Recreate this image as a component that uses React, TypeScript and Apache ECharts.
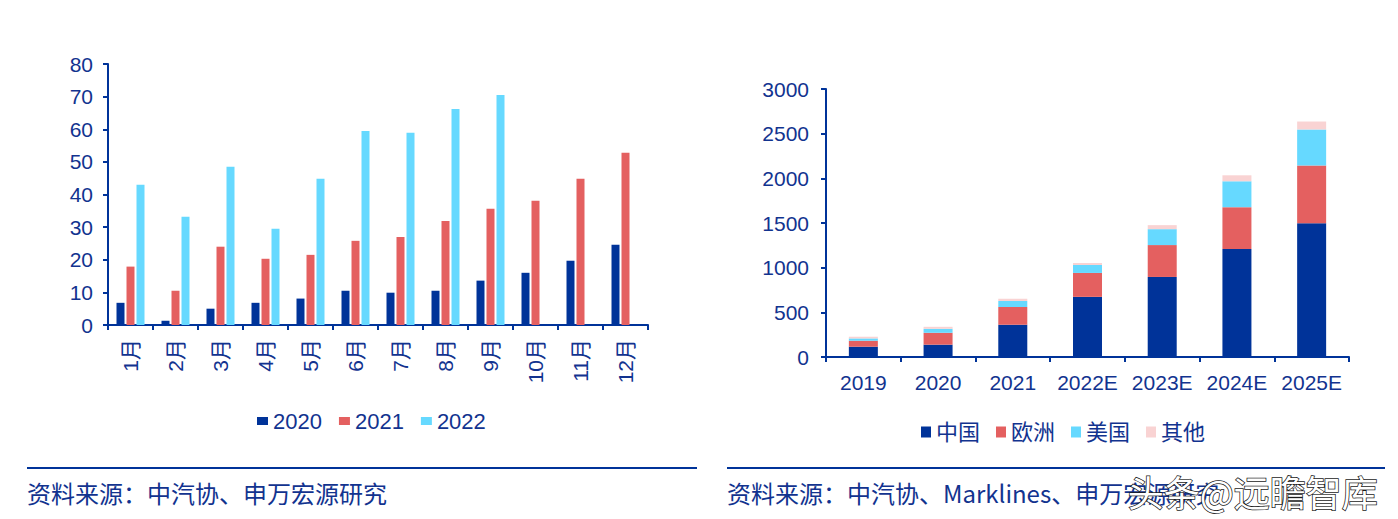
import React, { useEffect, useRef } from "react";
import * as echarts from "echarts";

const months = ["1月", "2月", "3月", "4月", "5月", "6月", "7月", "8月", "9月", "10月", "11月", "12月"];
const sales2020 = [6.8, 1.3, 5.0, 6.8, 8.1, 10.5, 9.9, 10.5, 13.6, 16.0, 19.7, 24.6];
const sales2021 = [17.9, 10.5, 24.0, 20.3, 21.5, 25.8, 27.0, 31.9, 35.6, 38.1, 44.8, 52.8];
const sales2022 = [43.0, 33.2, 48.5, 29.5, 44.8, 59.5, 58.9, 66.2, 70.5, null, null, null];

const years = ["2019", "2020", "2021", "2022E", "2023E", "2024E", "2025E"];
const china = [115, 138, 361, 673, 896, 1208, 1498];
const europe = [67, 133, 200, 268, 357, 469, 647];
const usa = [26, 45, 67, 89, 178, 290, 402];
const others = [19, 22, 23, 22, 45, 67, 89];

const leftLegend = ["2020", "2021", "2022"];
const rightLegend = ["中国", "欧洲", "美国", "其他"];

const sourceLeft = "资料来源：中汽协、申万宏源研究";
const sourceRight = "资料来源：中汽协、Marklines、申万宏源研究";
const watermark = "头条@远瞻智库";

const C_DARK = "#003399";
const C_RED = "#E46060";
const C_CYAN = "#66D9FF";
const C_PINK = "#F9D3D3";
const AXIS = "#003399";
const TXT = "#12338F";
const FONT = "'Liberation Sans', Arial, 'Noto Sans CJK SC', sans-serif";
const CJK = "'Noto Sans CJK SC', sans-serif";

export default function App() {
  const ref = useRef<HTMLDivElement>(null);
  useEffect(() => {
    if (!ref.current) return;
    const chart = echarts.init(ref.current, undefined, { renderer: "svg" });
    const axisLine = { show: true, lineStyle: { color: AXIS, width: 2 } };
    const axisTick = { show: true, length: 5, lineStyle: { color: AXIS, width: 2 } };
    const lbl = { color: TXT, fontSize: 21, fontFamily: FONT };
    chart.setOption({
      animation: false,
      textStyle: { fontFamily: FONT },
      grid: [
        { left: 108, top: 64, width: 540, height: 261 },
        { left: 826, top: 89, width: 523, height: 268 },
      ],
      legend: [
        {
          data: leftLegend,
          left: 252,
          top: 405,
          icon: "rect",
          itemWidth: 11,
          itemHeight: 8,
          itemGap: 17,
          textStyle: { ...lbl, fontSize: 22 },
        },
        {
          data: rightLegend,
          left: 916,
          top: 416,
          icon: "rect",
          itemWidth: 10,
          itemHeight: 11,
          itemGap: 16,
          textStyle: { ...lbl, fontSize: 22 },
        },
      ],
      xAxis: [
        {
          type: "category",
          gridIndex: 0,
          data: months,
          axisLine,
          axisTick,
          axisLabel: { ...lbl, rotate: 90, margin: 14, interval: 0 },
        },
        {
          type: "category",
          gridIndex: 1,
          data: years,
          axisLine,
          axisTick,
          axisLabel: { ...lbl, margin: 15, interval: 0 },
        },
      ],
      yAxis: [
        {
          type: "value",
          gridIndex: 0,
          min: 0,
          max: 80,
          interval: 10,
          axisLine,
          axisTick,
          splitLine: { show: false },
          axisLabel: { ...lbl, margin: 15 },
        },
        {
          type: "value",
          gridIndex: 1,
          min: 0,
          max: 3000,
          interval: 500,
          axisLine,
          axisTick,
          splitLine: { show: false },
          axisLabel: { ...lbl, margin: 17, formatter: (v: number) => String(v) },
        },
      ],
      series: [
        { name: "2020", type: "bar", xAxisIndex: 0, yAxisIndex: 0, data: sales2020, barWidth: 8, barGap: "25%", itemStyle: { color: C_DARK } },
        { name: "2021", type: "bar", xAxisIndex: 0, yAxisIndex: 0, data: sales2021, barWidth: 8, barGap: "25%", itemStyle: { color: C_RED } },
        { name: "2022", type: "bar", xAxisIndex: 0, yAxisIndex: 0, data: sales2022, barWidth: 8, barGap: "25%", itemStyle: { color: C_CYAN } },
        { name: "中国", type: "bar", stack: "t", xAxisIndex: 1, yAxisIndex: 1, data: china, barWidth: 29, itemStyle: { color: C_DARK } },
        { name: "欧洲", type: "bar", stack: "t", xAxisIndex: 1, yAxisIndex: 1, data: europe, barWidth: 29, itemStyle: { color: C_RED } },
        { name: "美国", type: "bar", stack: "t", xAxisIndex: 1, yAxisIndex: 1, data: usa, barWidth: 29, itemStyle: { color: C_CYAN } },
        { name: "其他", type: "bar", stack: "t", xAxisIndex: 1, yAxisIndex: 1, data: others, barWidth: 29, itemStyle: { color: C_PINK } },
      ],
      graphic: [
        { type: "line", shape: { x1: 27, y1: 468, x2: 697, y2: 468 }, style: { stroke: AXIS, lineWidth: 2 } },
        { type: "line", shape: { x1: 727, y1: 468, x2: 1385, y2: 468 }, style: { stroke: AXIS, lineWidth: 2 } },
        { type: "text", left: 27, top: 480, style: { text: sourceLeft, fill: TXT, fontSize: 24, fontFamily: CJK } },
        { type: "text", left: 727, top: 480, style: { text: sourceRight, fill: TXT, fontSize: 24, fontFamily: CJK } },
        {
          type: "text",
          left: 1127,
          top: 472,
          z: 100,
          style: { text: watermark, fill: "#ffffff", stroke: "#1a1a1a", lineWidth: 1.5, fontSize: 36, fontFamily: CJK },
        },
      ],
    });
    return () => chart.dispose();
  }, []);
  return <div ref={ref} style={{ position: "fixed", left: 0, top: 0, width: 1398, height: 519, background: "#fff" }} />;
}
